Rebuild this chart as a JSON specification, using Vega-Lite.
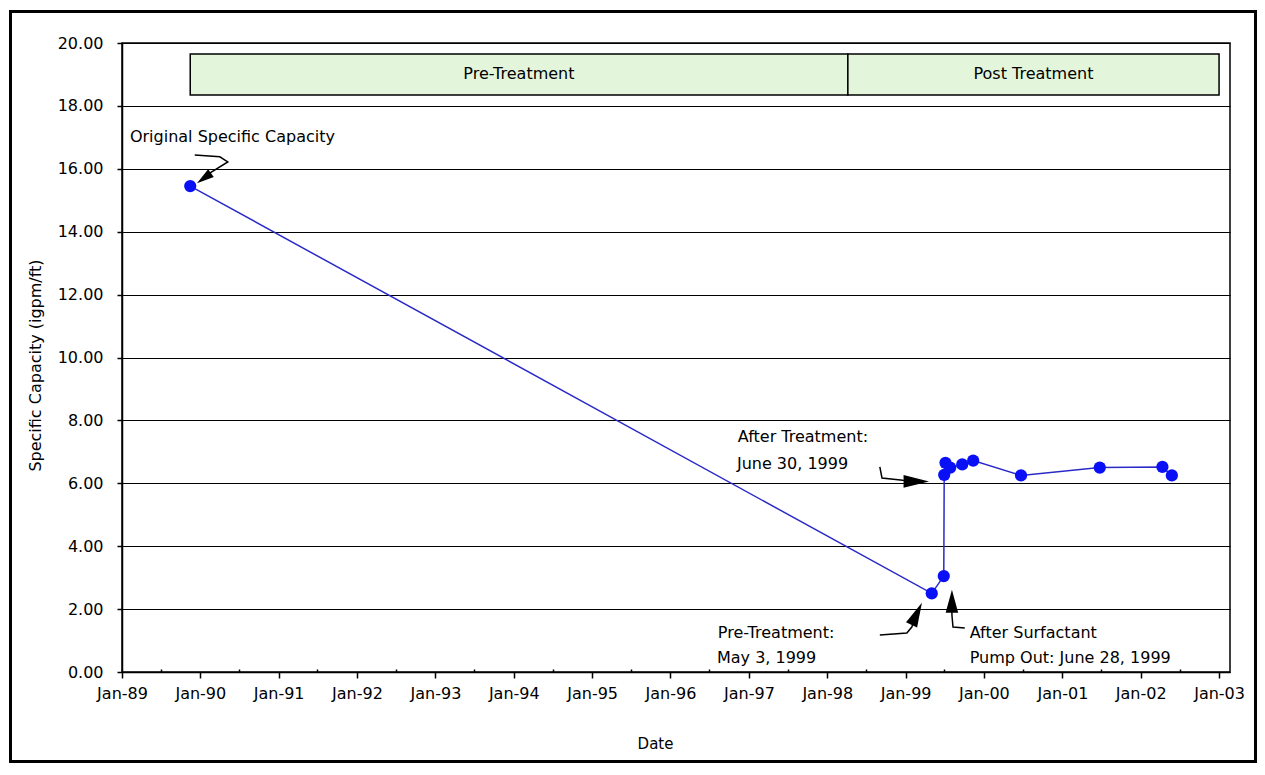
{
  "$schema": "https://vega.github.io/schema/vega-lite/v6.json",
  "width": 1108,
  "height": 629,
  "autosize": {"type": "none"},
  "padding": {"left": 122, "top": 43, "right": 35, "bottom": 103},
  "background": "white",
  "config": {
    "view": {"stroke": "black", "strokeWidth": 1.5},
    "font": "DejaVu Sans",
    "text": {"font": "DejaVu Sans"}
  },
  "datasets": {
    "series": [
      {"date": "1989-11-15", "cap": 15.45},
      {"date": "1999-05-03", "cap": 2.50},
      {"date": "1999-06-28", "cap": 3.05},
      {"date": "1999-06-30", "cap": 6.27},
      {"date": "1999-07-06", "cap": 6.65},
      {"date": "1999-07-28", "cap": 6.50},
      {"date": "1999-09-22", "cap": 6.60},
      {"date": "1999-11-12", "cap": 6.72},
      {"date": "2000-06-22", "cap": 6.25},
      {"date": "2001-06-24", "cap": 6.50},
      {"date": "2002-04-12", "cap": 6.52},
      {"date": "2002-05-26", "cap": 6.25}
    ],
    "bands": [
      {"phase": "Pre-Treatment", "start": "1989-11-15", "end": "1998-04-07", "mid": "1994-01-25"},
      {"phase": "Post Treatment", "start": "1998-04-07", "end": "2003-01-01", "mid": "2000-08-19"}
    ],
    "arrows": [
      {"arrow": "orig", "seq": 1, "date": "1989-12-06", "v": 16.44},
      {"arrow": "orig", "seq": 2, "date": "1990-04-02", "v": 16.38},
      {"arrow": "orig", "seq": 3, "date": "1990-05-09", "v": 16.22},
      {"arrow": "orig", "seq": 4, "date": "1990-02-10", "v": 15.85},
      {"arrow": "aftT", "seq": 1, "date": "1998-09-03", "v": 6.52},
      {"arrow": "aftT", "seq": 2, "date": "1998-09-13", "v": 6.17},
      {"arrow": "aftT", "seq": 3, "date": "1998-12-19", "v": 6.10},
      {"arrow": "aftT", "seq": 4, "date": "1999-02-14", "v": 6.07},
      {"arrow": "preT", "seq": 1, "date": "1998-09-03", "v": 1.18},
      {"arrow": "preT", "seq": 2, "date": "1999-01-07", "v": 1.24},
      {"arrow": "preT", "seq": 3, "date": "1999-01-30", "v": 1.43},
      {"arrow": "preT", "seq": 4, "date": "1999-02-18", "v": 1.78},
      {"arrow": "surf", "seq": 1, "date": "1999-08-05", "v": 2.23},
      {"arrow": "surf", "seq": 2, "date": "1999-08-05", "v": 1.81},
      {"arrow": "surf", "seq": 3, "date": "1999-08-10", "v": 1.43},
      {"arrow": "surf", "seq": 4, "date": "1999-10-04", "v": 1.40}
    ],
    "heads": [
      {"arrow": "orig", "date": "1990-01-18", "v": 15.70},
      {"arrow": "aftT", "date": "1999-02-20", "v": 6.06},
      {"arrow": "preT", "date": "1999-02-22", "v": 1.85},
      {"arrow": "surf", "date": "1999-08-05", "v": 2.25}
    ],
    "notes": [
      {"label": "Original Specific Capacity", "date": "1989-02-07", "v": 17.01},
      {"label": "After Treatment:", "date": "1996-11-10", "v": 7.47},
      {"label": "June 30, 1999", "date": "1996-11-06", "v": 6.61},
      {"label": "Pre-Treatment:", "date": "1996-08-09", "v": 1.24},
      {"label": "May 3, 1999", "date": "1996-08-05", "v": 0.445},
      {"label": "After Surfactant", "date": "1999-10-27", "v": 1.24},
      {"label": "Pump Out: June 28, 1999", "date": "1999-10-27", "v": 0.445}
    ]
  },
  "layer": [
    {
      "data": {"name": "bands"},
      "mark": {"type": "rect", "fill": "#e3f6dc", "stroke": "black", "strokeWidth": 1.5},
      "encoding": {
        "x": {
          "field": "start",
          "type": "temporal",
          "scale": {
            "type": "utc",
            "domain": [
              {"year": 1989, "month": 1, "date": 1, "utc": true},
              {"year": 2003, "month": 2, "date": 21, "utc": true}
            ]
          },
          "axis": {
            "title": "Date",
            "titleFont": "DejaVu Sans",
            "titleFontSize": 15,
            "titleFontWeight": "normal",
            "titleColor": "black",
            "titleX": 533,
            "titleY": 71,
            "titleBaseline": "middle",
            "titleAlign": "center",
            "tickCount": {"interval": "month", "step": 6},
            "labelExpr": "utcmonth(datum.value) == 0 ? utcFormat(datum.value, '%b-%y') : ''",
            "labelFlush": false,
            "labelOverlap": false,
            "labelFont": "DejaVu Sans",
            "labelFontSize": 16,
            "labelColor": "black",
            "labelPadding": 7,
            "tickColor": "black",
            "tickWidth": 1.5,
            "tickSize": {"condition": {"test": "utcmonth(datum.value) == 6", "value": -3}, "value": 6},
            "domainColor": "black",
            "domainWidth": 1.5,
            "grid": false
          }
        },
        "x2": {"field": "end"},
        "y": {
          "datum": 19.65,
          "type": "quantitative",
          "scale": {"domain": [0, 20], "nice": false},
          "axis": {
            "title": "Specific Capacity (igpm/ft)",
            "values": [0, 2, 4, 6, 8, 10, 12, 14, 16, 18, 20],
            "format": ".2f",
            "grid": true,
            "gridColor": "black",
            "gridWidth": 1,
            "gridOpacity": 1,
            "tickColor": "black",
            "tickSize": 5,
            "tickWidth": 1.5,
            "domainColor": "black",
            "domainWidth": 1.5,
            "labelFont": "DejaVu Sans",
            "labelFontSize": 16,
            "labelColor": "black",
            "labelPadding": 14,
            "titleFont": "DejaVu Sans",
            "titleFontSize": 16,
            "titleFontWeight": "normal",
            "titleColor": "black",
            "titleX": -87,
            "titleY": 322,
            "titleAngle": -90,
            "titleBaseline": "middle",
            "titleAlign": "center"
          }
        },
        "y2": {"datum": 18.35}
      }
    },
    {
      "data": {"name": "bands"},
      "mark": {"type": "text", "fontSize": 16, "color": "black", "align": "center", "baseline": "middle"},
      "encoding": {
        "x": {"field": "mid", "type": "temporal"},
        "y": {"datum": 19.01, "type": "quantitative"},
        "text": {"field": "phase"}
      }
    },
    {
      "data": {"name": "series"},
      "mark": {"type": "line", "color": "#2a2ac8", "strokeWidth": 1.5},
      "encoding": {
        "x": {"field": "date", "type": "temporal"},
        "y": {"field": "cap", "type": "quantitative"}
      }
    },
    {
      "data": {"name": "series"},
      "mark": {"type": "point", "filled": true, "size": 150, "opacity": 1, "color": "#0a10f5"},
      "encoding": {
        "x": {"field": "date", "type": "temporal"},
        "y": {"field": "cap", "type": "quantitative"}
      }
    },
    {
      "data": {"name": "arrows"},
      "mark": {"type": "line", "color": "black", "strokeWidth": 1.5},
      "encoding": {
        "x": {"field": "date", "type": "temporal"},
        "y": {"field": "v", "type": "quantitative"},
        "detail": {"field": "arrow"},
        "order": {"field": "seq"}
      }
    },
    {
      "data": {"name": "heads"},
      "transform": [{"filter": "datum.arrow == 'orig'"}],
      "mark": {"type": "point", "shape": "M0,-1L0.55,1L-0.55,1Z", "filled": true, "color": "black", "opacity": 1, "size": 300, "angle": 234},
      "encoding": {
        "x": {"field": "date", "type": "temporal"},
        "y": {"field": "v", "type": "quantitative"}
      }
    },
    {
      "data": {"name": "heads"},
      "transform": [{"filter": "datum.arrow == 'aftT'"}],
      "mark": {"type": "point", "shape": "M0,-1L0.5,1L-0.5,1Z", "filled": true, "color": "black", "opacity": 1, "size": 650, "angle": 90},
      "encoding": {
        "x": {"field": "date", "type": "temporal"},
        "y": {"field": "v", "type": "quantitative"}
      }
    },
    {
      "data": {"name": "heads"},
      "transform": [{"filter": "datum.arrow == 'preT'"}],
      "mark": {"type": "point", "shape": "M0,-1L0.5,1L-0.5,1Z", "filled": true, "color": "black", "opacity": 1, "size": 600, "angle": 25},
      "encoding": {
        "x": {"field": "date", "type": "temporal"},
        "y": {"field": "v", "type": "quantitative"}
      }
    },
    {
      "data": {"name": "heads"},
      "transform": [{"filter": "datum.arrow == 'surf'"}],
      "mark": {"type": "point", "shape": "M0,-1L0.55,1L-0.55,1Z", "filled": true, "color": "black", "opacity": 1, "size": 520, "angle": 0},
      "encoding": {
        "x": {"field": "date", "type": "temporal"},
        "y": {"field": "v", "type": "quantitative"}
      }
    },
    {
      "data": {"name": "notes"},
      "mark": {"type": "text", "fontSize": 16, "color": "black", "align": "left", "baseline": "middle", "strokeWidth": 0},
      "encoding": {
        "x": {"field": "date", "type": "temporal"},
        "y": {"field": "v", "type": "quantitative"},
        "text": {"field": "label"},
        "stroke": {
          "field": "v",
          "type": "quantitative",
          "scale": {"range": ["rgba(255,255,255,0)", "rgba(255,255,255,0)"]},
          "legend": {
            "orient": "none",
            "legendX": -111.5,
            "legendY": -31.5,
            "direction": "vertical",
            "gradientLength": 750,
            "gradientThickness": 1245,
            "gradientStrokeColor": "black",
            "gradientStrokeWidth": 3,
            "title": null,
            "labelExpr": "''",
            "labelOpacity": 0,
            "padding": 0,
            "offset": 0
          }
        }
      }
    }
  ]
}
